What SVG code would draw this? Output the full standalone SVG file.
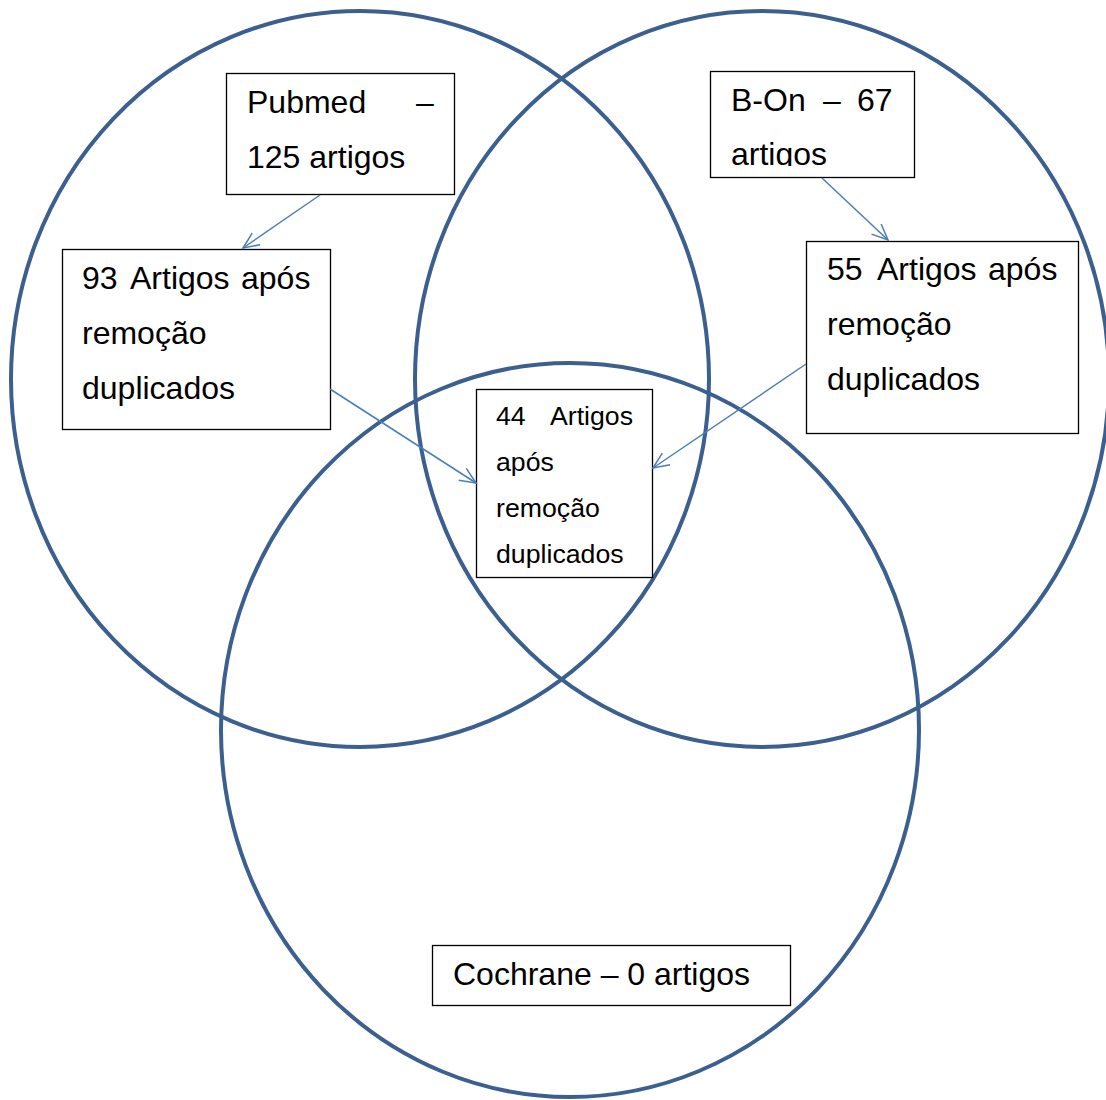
<svg xmlns="http://www.w3.org/2000/svg" width="1106" height="1100" viewBox="0 0 1106 1100">
<style>
.c{fill:none;stroke:#3B5F8E;stroke-width:4}
.b{fill:#fff;stroke:#000;stroke-width:1.3}
.t{font-family:"Liberation Sans",Arial,sans-serif;font-size:32px;fill:#000}
.s{font-family:"Liberation Sans",Arial,sans-serif;font-size:26.7px;fill:#000}
.a{fill:none;stroke:#4A7EBB;stroke-width:1.5}
</style>
<defs>
<marker id="ah" markerUnits="userSpaceOnUse" markerWidth="20" markerHeight="20" refX="17" refY="8" orient="auto">
<path d="M1,1 L17,8 L1,15" fill="none" stroke="#4A7EBB" stroke-width="1.5"/>
</marker>
<clipPath id="bonclip"><rect x="710" y="71" width="205" height="95"/></clipPath>
</defs>
<g id="circles">
<ellipse id="circle-pubmed" class="c" cx="360" cy="379" rx="349" ry="368"/>
<ellipse id="circle-bon" class="c" cx="762" cy="379" rx="347" ry="368"/>
<ellipse id="circle-cochrane" class="c" cx="570" cy="730" rx="349" ry="367"/>
</g>
<g id="node-pubmed">
<rect class="b" x="226.5" y="73.5" width="228" height="121"/>
<text class="t"><tspan x="247" y="113">Pubmed</tspan><tspan x="416" y="113">–</tspan><tspan x="247" y="168">125 artigos</tspan></text>
</g>
<g id="node-bon">
<rect class="b" x="710.5" y="71.5" width="204" height="106"/>
<text class="t" clip-path="url(#bonclip)"><tspan x="731" y="111">B-On</tspan><tspan x="823" y="111">–</tspan><tspan x="857" y="111">67</tspan><tspan x="731" y="165">artigos</tspan></text>
</g>
<g id="node-pubmed-dedup">
<rect class="b" x="62.5" y="249.5" width="268" height="180"/>
<text class="t"><tspan x="82" y="289">93</tspan><tspan x="130" y="289">Artigos</tspan><tspan x="241" y="289">após</tspan><tspan x="82" y="344">remoção</tspan><tspan x="82" y="399">duplicados</tspan></text>
</g>
<g id="node-bon-dedup">
<rect class="b" x="806.5" y="241.5" width="272" height="192"/>
<text class="t"><tspan x="827" y="280">55</tspan><tspan x="877" y="280">Artigos</tspan><tspan x="988" y="280">após</tspan><tspan x="827" y="335">remoção</tspan><tspan x="827" y="390">duplicados</tspan></text>
</g>
<g id="node-total">
<rect class="b" x="476.5" y="389.5" width="176" height="188"/>
<text class="s"><tspan x="496" y="425">44</tspan><tspan x="550" y="425">Artigos</tspan><tspan x="496" y="471">após</tspan><tspan x="496" y="517">remoção</tspan><tspan x="496" y="563">duplicados</tspan></text>
</g>
<g id="node-cochrane">
<rect class="b" x="432.5" y="945.5" width="358" height="60"/>
<text class="t" x="453" y="985">Cochrane – 0 artigos</text>
</g>
<g id="connectors">
<line class="a" x1="320" y1="195" x2="243" y2="248" marker-end="url(#ah)"/>
<line class="a" x1="822" y1="178" x2="888" y2="240" marker-end="url(#ah)"/>
<line class="a" x1="330" y1="389" x2="476" y2="483" marker-end="url(#ah)"/>
<line class="a" x1="806" y1="364" x2="653" y2="468" marker-end="url(#ah)"/>
</g>
</svg>
